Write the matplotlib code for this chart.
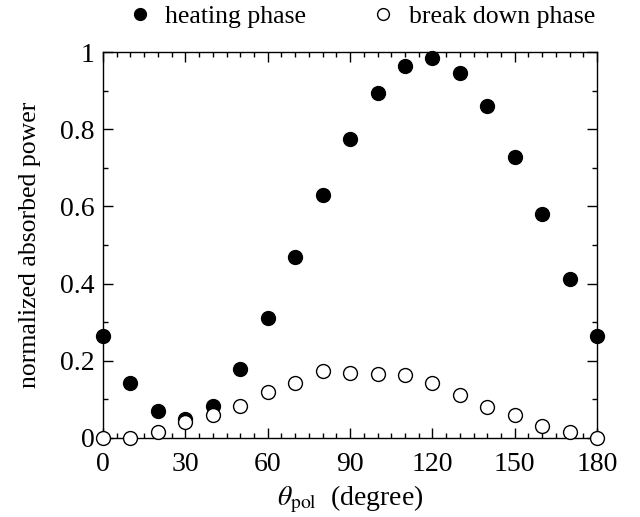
import numpy as np
import matplotlib
matplotlib.use('Agg')
import matplotlib.pyplot as plt
from matplotlib.ticker import MultipleLocator, FuncFormatter

plt.rcParams['font.family'] = ['Liberation Serif', 'DejaVu Serif']
plt.rcParams['mathtext.fontset'] = 'stix'

angulo = [0, 10, 20, 30, 40, 50, 60, 70, 80, 90, 100, 110, 120, 130, 140, 150, 160, 170, 180]
aquecimento = [0.265, 0.143, 0.070, 0.048, 0.083, 0.178, 0.312, 0.468, 0.630, 0.775,
               0.893, 0.963, 0.985, 0.947, 0.860, 0.728, 0.580, 0.413, 0.265]
ruptura = [0.0, 0.0, 0.015, 0.040, 0.060, 0.083, 0.120, 0.142, 0.173, 0.168,
           0.165, 0.162, 0.143, 0.110, 0.080, 0.060, 0.030, 0.015, 0.0]

fig = plt.figure(figsize=(6.4, 5.17), dpi=100)
ax = fig.add_axes([0.161, 0.153, 0.772, 0.746])

ax.plot(angulo, aquecimento, 'o', color='black', markersize=10, clip_on=False,
        zorder=3, label='heating phase')
ax.plot(angulo, ruptura, 'o', markerfacecolor='white', markeredgecolor='black',
        markeredgewidth=1.0, markersize=10, clip_on=False, zorder=3, label='break down phase')

ax.set_xlim(0, 180)
ax.set_ylim(0, 1)
ax.xaxis.set_major_locator(MultipleLocator(30))
ax.xaxis.set_minor_locator(MultipleLocator(5))
ax.yaxis.set_major_locator(MultipleLocator(0.2))
ax.yaxis.set_minor_locator(MultipleLocator(0.1))
ax.yaxis.set_major_formatter(FuncFormatter(lambda v, p: '%g' % round(v, 2)))
ax.tick_params(which='both', direction='in', top=True, right=True, labelsize=20, width=1)
ax.tick_params(which='major', length=7)
ax.tick_params(which='minor', length=3.5)
ax.tick_params(axis='x', which='major', pad=10)
ax.tick_params(axis='y', which='major', pad=6)
for s in ax.spines.values():
    s.set_linewidth(1)

ax.set_xlabel(r'$\theta_{\rm pol}$  (degree)', fontsize=20, labelpad=5)
ax.set_ylabel('normalized absorbed power', fontsize=18.5, labelpad=14)

ax.legend(loc='lower center', bbox_to_anchor=(0.522, 1.015), ncol=2, frameon=False,
          fontsize=18.5, handlelength=1.0, handletextpad=0.5, columnspacing=2.5,
          borderaxespad=0.3, markerscale=0.85)

fig.savefig('out.png', dpi=100)
